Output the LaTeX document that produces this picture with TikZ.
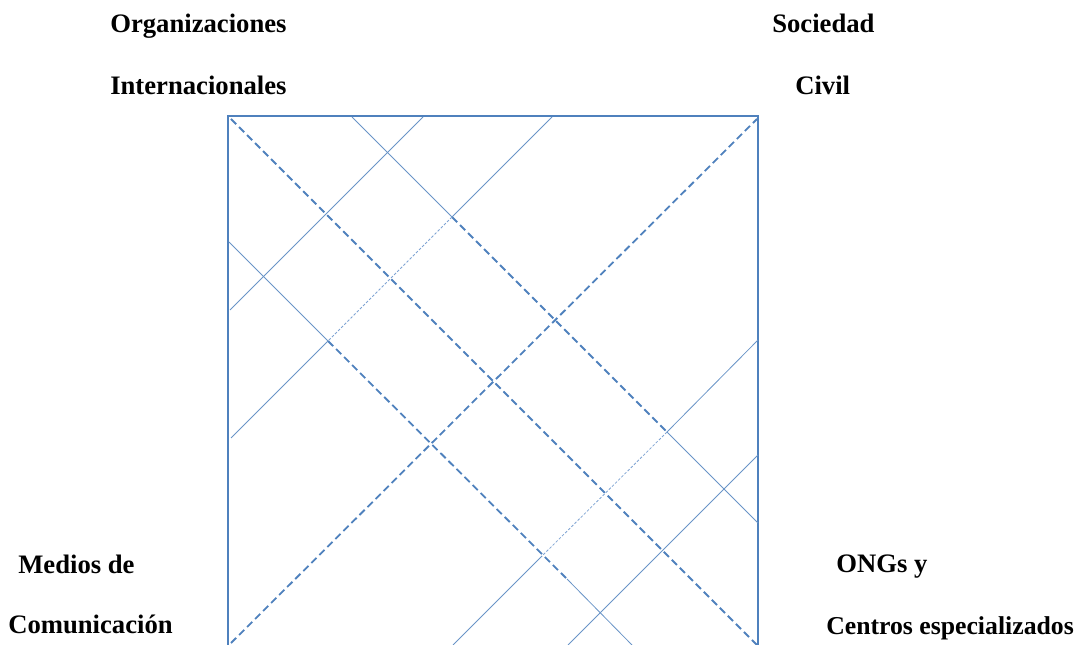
\documentclass[tikz,border=0pt]{standalone}
\usepackage{fontspec}
\setmainfont{Liberation Serif}
\definecolor{lineblue}{HTML}{4F81BD}
\definecolor{lightblue}{HTML}{7FA3D3}
\begin{document}
\begin{tikzpicture}[x=0.75pt,y=-0.75pt,
  lbl/.style={anchor=base west,inner sep=0pt,font=\fontsize{20}{24}\selectfont\bfseries},
  frameline/.style={draw=lineblue,line width=1.8pt,line join=miter},
  thickdash/.style={draw=lineblue,line width=1.35pt,dash pattern=on 5.5pt off 3pt},
  finedash/.style={draw=lightblue,line width=0.6pt,dash pattern=on 2pt off 1.3pt},
  thinline/.style={draw=lineblue!85,line width=0.6pt}]
\useasboundingbox (0,0) rectangle (1075,645);
% labels
\node[lbl] (oi1) at (110,33) {Organizaciones};
\node[lbl] (oi2) at (110,95) {Internacionales};
\node[lbl] (sc1) at (772,33) {Sociedad};
\node[lbl] (sc2) at (795,95) {Civil};
\node[lbl] (mc1) at (18,573) {Medios de};
\node[lbl] (mc2) at (8,633) {Comunicación};
\node[lbl] (ng1) at (836,572) {ONGs y};
\node[lbl,font=\fontsize{19.3}{24}\selectfont\bfseries] (ng2) at (826,634) {Centros especializados};
% frame
\coordinate (fbl) at (228,645);
\coordinate (ftl) at (228,116);
\coordinate (ftr) at (758,116);
\coordinate (fbr) at (758,645);
\draw[frameline] (fbl) -- (ftl) -- (ftr) -- (fbr);
% diagonals
\coordinate (da1) at (231,119);
\coordinate (da2) at (757,645);
\coordinate (db1) at (231,643);
\coordinate (db2) at (757,119);
\draw[thickdash] (da1) -- (da2);
\draw[thickdash] (db1) -- (db2);
% line 3 (down-right)
\coordinate (p3a) at (352,117);
\coordinate (p3b) at (452,217);
\coordinate (p3c) at (667,432);
\coordinate (p3d) at (758,523);
\draw[thinline] (p3a) -- (p3b);
\draw[thickdash] (p3b) -- (p3c);
\draw[thinline] (p3c) -- (p3d);
% line 4 (down-right)
\coordinate (p4a) at (229,242);
\coordinate (p4b) at (328,341);
\coordinate (p4c) at (567,579);
\coordinate (p4d) at (632,645);
\draw[thinline] (p4a) -- (p4b);
\draw[thickdash] (p4b) -- (p4c);
\draw[thinline] (p4c) -- (p4d);
% line 5 (up-right)
\coordinate (p5a) at (423,117);
\coordinate (p5b) at (230,310);
\draw[thinline] (p5a) -- (p5b);
% line 6 (up-right)
\coordinate (p6a) at (552,117);
\coordinate (p6d) at (231,438);
\draw[thinline] (p6a) -- (p3b);
\draw[finedash] (p3b) -- (p4b);
\draw[thinline] (p4b) -- (p6d);
% line 7 (up-right)
\coordinate (p7a) at (758,455);
\coordinate (p7b) at (568,645);
\draw[thinline] (p7a) -- (p7b);
% line 8 (up-right)
\coordinate (p8a) at (758,340);
\coordinate (p8c) at (542,556);
\coordinate (p8d) at (453,645);
\draw[thinline] (p8a) -- (p3c);
\draw[finedash] (p3c) -- (p8c);
\draw[thinline] (p8c) -- (p8d);
\end{tikzpicture}
\end{document}
